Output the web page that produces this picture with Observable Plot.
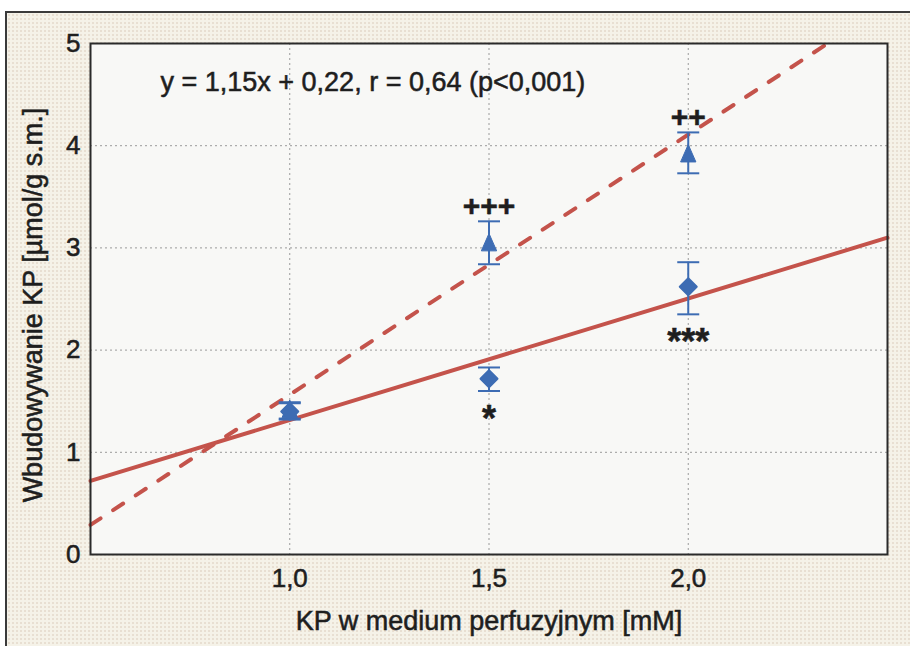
<!DOCTYPE html>
<html>
<head>
<meta charset="utf-8">
<script src="https://cdn.jsdelivr.net/npm/d3@7"></script>
<script src="https://cdn.jsdelivr.net/npm/@observablehq/plot@0.6"></script>
<style>
  html, body { margin: 0; padding: 0; background: #ffffff; }
  #wrap { position: relative; width: 910px; height: 646px; overflow: hidden; }
  #bg {
    position: absolute; left: 5px; top: 11px; width: 940px; height: 680px;
    border-left: 2px solid #3a3a3a; border-top: 2px solid #3a3a3a;
    background-color: #f5f2e8;
    background-image: radial-gradient(#e8dfd2 0.8px, transparent 1.1px);
    background-size: 4px 4px;
  }
  #chart { position: absolute; left: 0; top: 0; }
  #chart svg text { stroke: #1e1e1e; stroke-width: 0.55px; paint-order: stroke; }
</style>
</head>
<body>
<div id="wrap"><div id="bg"></div><div id="chart"></div></div>
<script>
// ---- data ----
const xLevels  = [1.0, 1.5, 2.0];
const triMean  = [1.42, 3.05, 3.92];
const triLow   = [1.33, 2.84, 3.73];
const triHigh  = [1.49, 3.26, 4.13];
const triMarks = ["", "+++", "++"];
const diaMean  = [1.40, 1.72, 2.62];
const diaLow   = [1.32, 1.60, 2.35];
const diaHigh  = [1.48, 1.83, 2.86];
const diaMarks = ["", "*", "***"];
const solidLineX  = [0.5, 2.5];
const solidLineY  = [0.72, 3.10];
const dashedLineX = [0.5, 2.35];
const dashedLineY = [0.29, 5.0];
const xTicks = [1.0, 1.5, 2.0];
const yTicks = [0, 1, 2, 3, 4, 5];
const equationText = "y = 1,15x + 0,22, r = 0,64 (p<0,001)";
const xLabel = "KP w medium perfuzyjnym [mM]";
const yLabel = "Wbudowywanie KP [µmol/g s.m.]";

// ---- tables built from arrays ----
const tri = xLevels.map((x, i) => ({x, mean: triMean[i], low: triLow[i], high: triHigh[i], mark: triMarks[i]}));
const dia = xLevels.map((x, i) => ({x, mean: diaMean[i], low: diaLow[i], high: diaHigh[i], mark: diaMarks[i]}));
const solid = solidLineX.map((x, i) => ({x, y: solidLineY[i]}));
const dashed = dashedLineX.map((x, i) => ({x, y: dashedLineY[i]}));

const blue = "#3d6cb3";
const red = "#c4534b";
const ink = "#1e1e1e";

const poly = (pts) => ({
  draw(ctx, size) {
    const r = Math.sqrt(size / Math.PI);
    ctx.moveTo(pts[0][0] * r, pts[0][1] * r);
    for (let i = 1; i < pts.length; i++) ctx.lineTo(pts[i][0] * r, pts[i][1] * r);
    ctx.closePath();
  }
});
const triSym = poly([[0, -1.1], [-0.9, 0.95], [0.9, 0.95]]);
const diaSym = poly([[0, -1], [1, 0], [0, 1], [-1, 0]]);
const capSym = { draw(ctx, size) { const r = Math.sqrt(size / Math.PI); ctx.moveTo(-r, 0); ctx.lineTo(r, 0); } };

const fmtX = d => d.toFixed(1).replace(".", ",");
const fmtY = d => String(d);

const chart = Plot.plot({
  width: 910,
  height: 646,
  marginLeft: 90,
  marginRight: 23,
  marginTop: 43,
  marginBottom: 92,
  style: { background: "transparent", fontFamily: "'Liberation Sans', Arial, sans-serif", color: ink, overflow: "visible" },
  x: { domain: [0.5, 2.5] },
  y: { domain: [0, 5] },
  marks: [
    Plot.frame({ fill: "#f8f8f6", stroke: "none" }),
    Plot.gridY(yTicks, { stroke: "#9a9a9a", strokeOpacity: 1, strokeDasharray: "2,3" }),
    Plot.gridX(xTicks, { stroke: "#9a9a9a", strokeOpacity: 1, strokeDasharray: "2,3" }),
    Plot.axisX(xTicks, { tickFormat: fmtX, tickSize: 0, tickPadding: 14, fontSize: 26, label: null, fill: ink }),
    Plot.axisY(yTicks, { tickFormat: fmtY, tickSize: 0, tickPadding: 10, fontSize: 26, label: null, fill: ink }),
    Plot.line(dashed, { x: "x", y: "y", stroke: red, strokeWidth: 4, strokeDasharray: "12,15", strokeLinecap: "round" }),
    Plot.line(solid, { x: "x", y: "y", stroke: red, strokeWidth: 4 }),
    Plot.ruleX(tri, { x: "x", y1: "low", y2: "high", stroke: blue, strokeWidth: 2 }),
    Plot.dot(tri, { x: "x", y: "low", symbol: capSym, r: 11, stroke: blue, strokeWidth: 2, fill: "none" }),
    Plot.dot(tri, { x: "x", y: "high", symbol: capSym, r: 11, stroke: blue, strokeWidth: 2, fill: "none" }),
    Plot.ruleX(dia, { x: "x", y1: "low", y2: "high", stroke: blue, strokeWidth: 2 }),
    Plot.dot(dia, { x: "x", y: "low", symbol: capSym, r: 11, stroke: blue, strokeWidth: 2, fill: "none" }),
    Plot.dot(dia, { x: "x", y: "high", symbol: capSym, r: 11, stroke: blue, strokeWidth: 2, fill: "none" }),
    Plot.dot(tri, { x: "x", y: "mean", symbol: triSym, r: 8.5, fill: blue, stroke: blue, strokeWidth: 1, strokeLinejoin: "round" }),
    Plot.dot(dia, { x: "x", y: "mean", symbol: diaSym, r: 8.5, fill: blue, stroke: blue, strokeWidth: 2, strokeLinejoin: "round" }),
    Plot.text(tri, { x: "x", y: "high", text: "mark", dy: -15, fontSize: 30, fontWeight: "bold", fill: ink }),
    Plot.text(dia, { x: "x", y: "low", text: "mark", dy: 28, fontSize: 36, fontWeight: "bold", fill: ink }),
    Plot.text([equationText], { frameAnchor: "top-left", dx: 70, dy: 39, textAnchor: "start", lineAnchor: "middle", fontSize: 27, fill: ink }),
    Plot.text([xLabel], { frameAnchor: "bottom", dy: 67, textAnchor: "middle", lineAnchor: "middle", fontSize: 27, fill: ink }),
    Plot.text([yLabel], { frameAnchor: "left", dx: -57, dy: 6, rotate: -90, textAnchor: "middle", lineAnchor: "middle", fontSize: 27, fill: ink }),
    Plot.frame({ stroke: "#2a2a2a", strokeWidth: 2 })
  ]
});
document.getElementById("chart").appendChild(chart);
</script>
</body>
</html>
